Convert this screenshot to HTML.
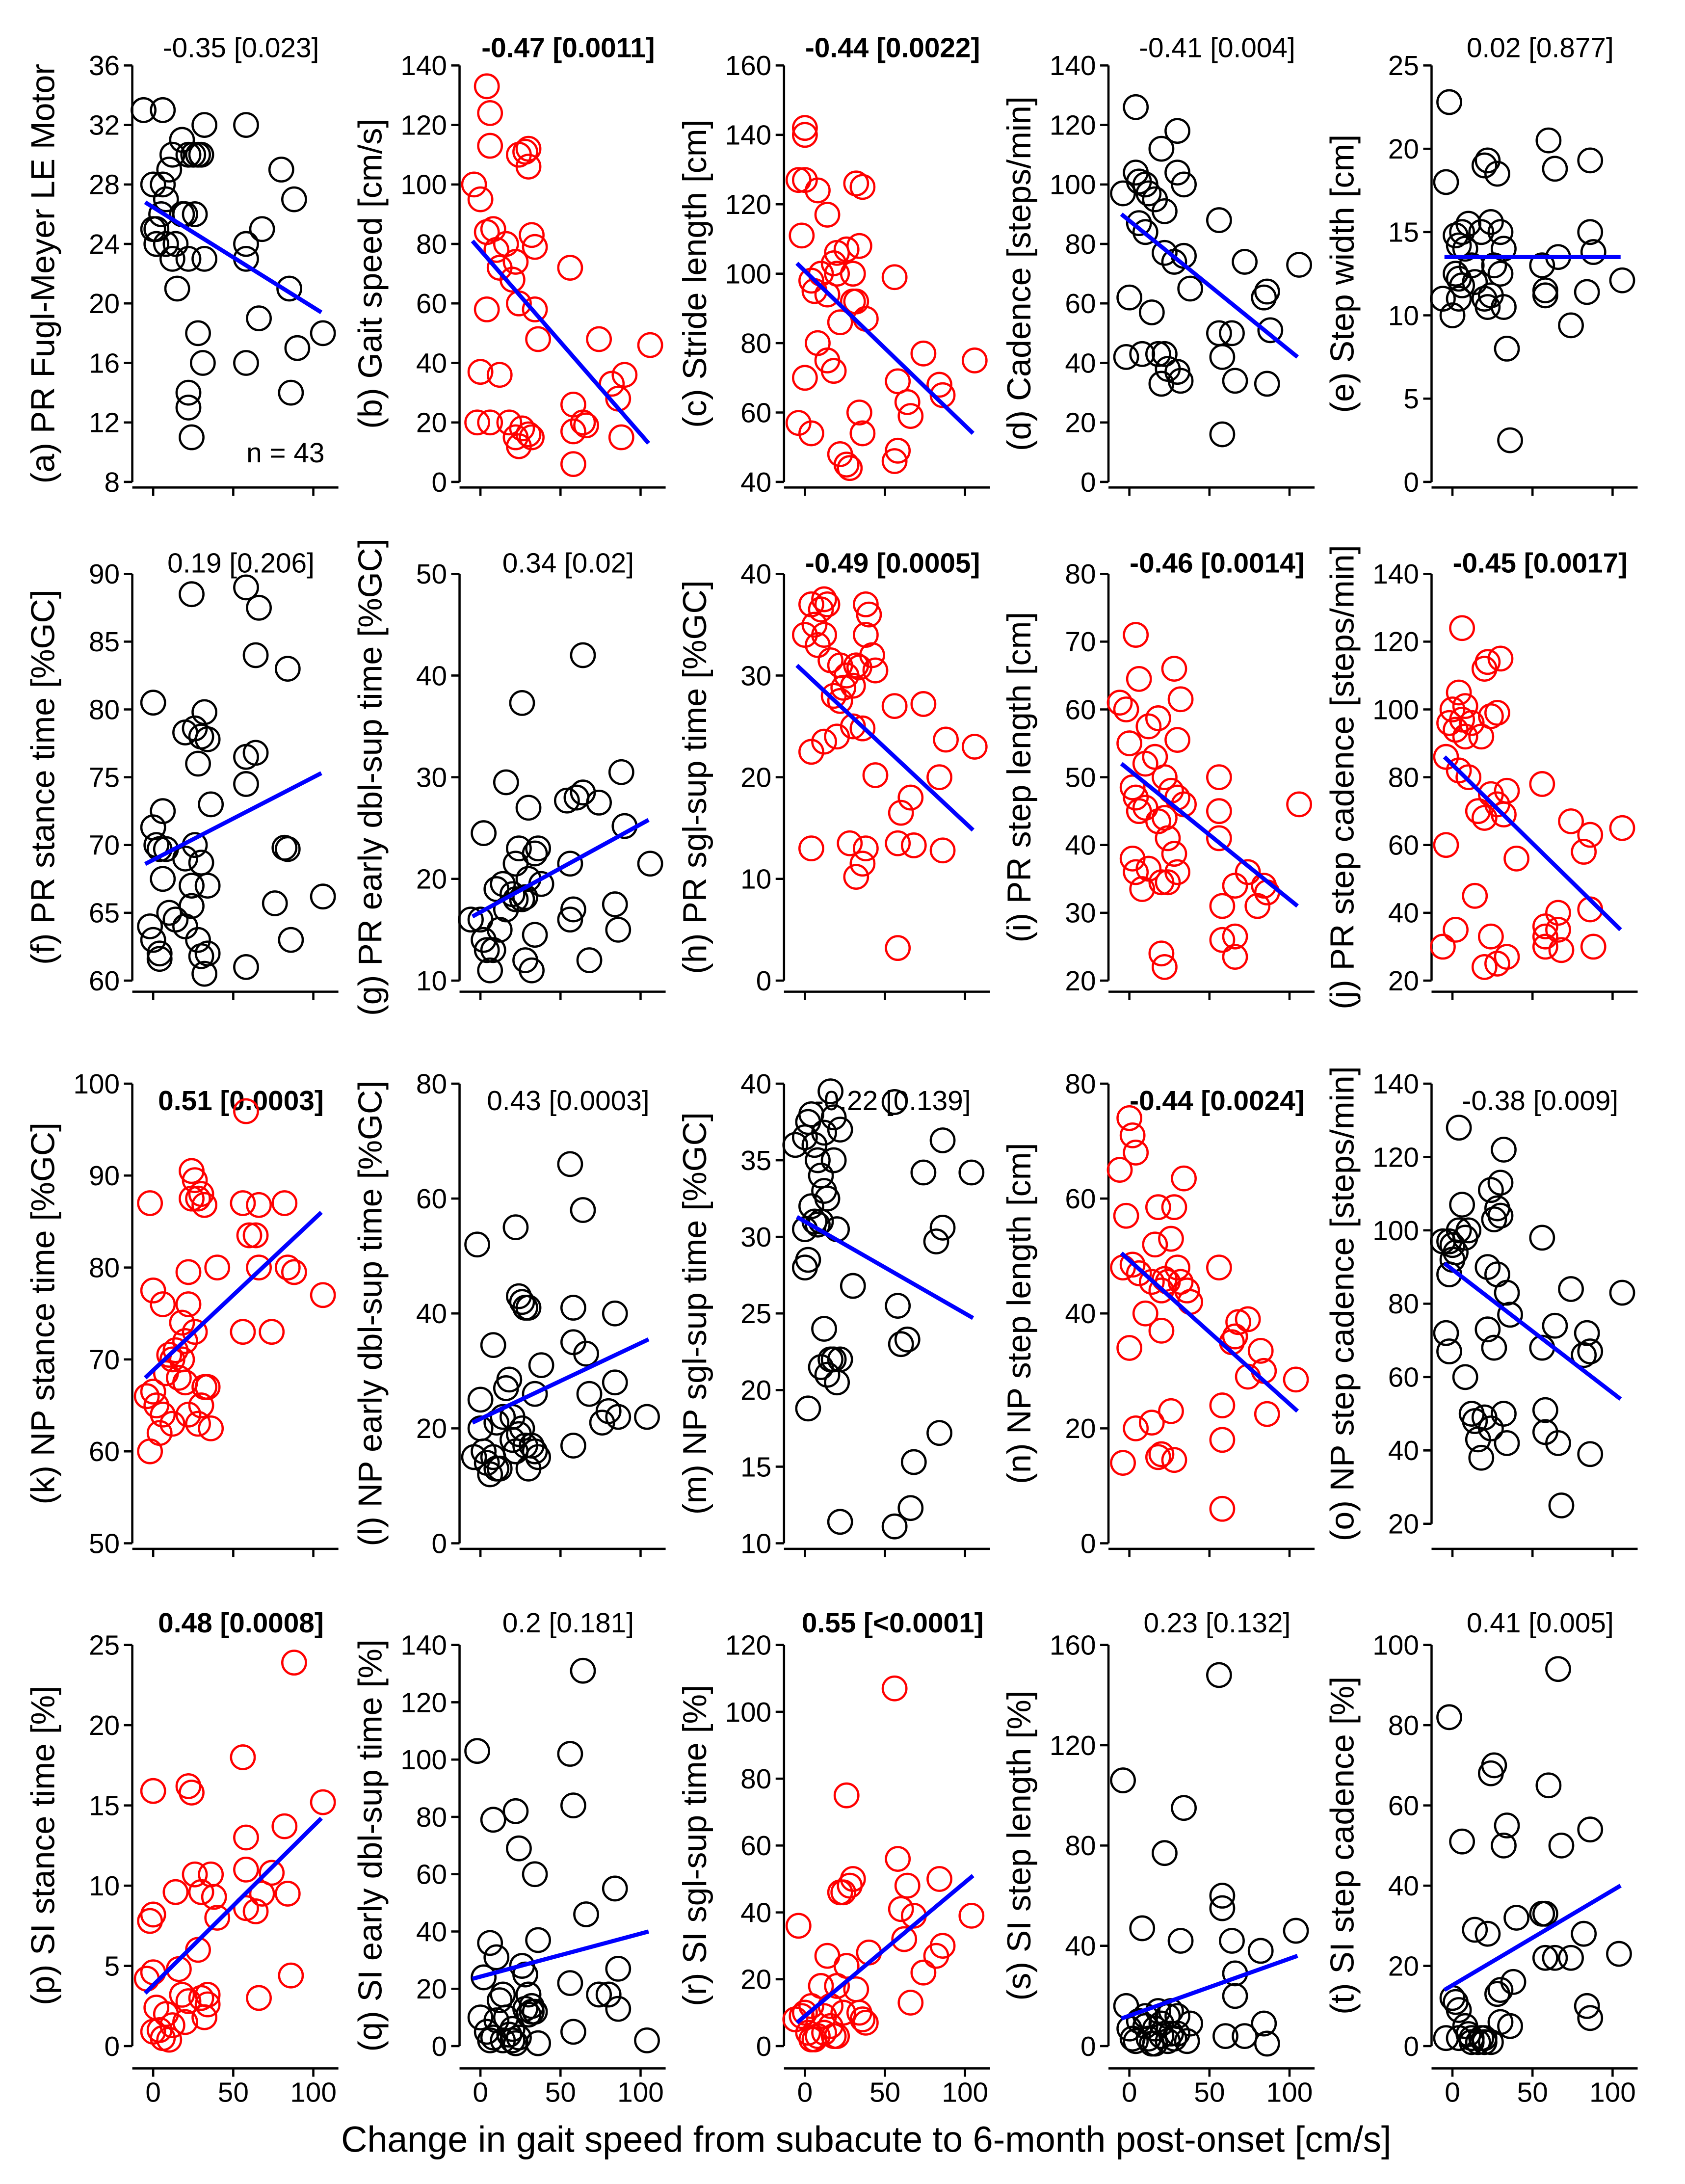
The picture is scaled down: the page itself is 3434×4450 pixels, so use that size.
<!DOCTYPE html>
<html><head><meta charset="utf-8"><style>
html,body{margin:0;padding:0;background:#fff}
svg{display:block}
text{font-family:"Liberation Sans",Arial,sans-serif;fill:#000}
</style></head><body>
<svg id="chart" xmlns="http://www.w3.org/2000/svg" width="3434" height="4450" viewBox="0 0 1210 1568" preserveAspectRatio="none">
<text x="622" y="1545" font-size="26" text-anchor="middle">Change in gait speed from subacute to 6-month post-onset [cm/s]</text>
</svg>
<script>
const panelIds=["a","b","c","d","e","f","g","h","i","j","k","l","m","n","o","p","q","r","s","t"];
const yLabels=["PR Fugl-Meyer LE Motor","Gait speed [cm/s]","Stride length [cm]","Cadence [steps/min]","Step width [cm]",
"PR stance time [%GC]","PR early dbl-sup time [%GC]","PR sgl-sup time [%GC]","PR step length [cm]","PR step cadence [steps/min]",
"NP stance time [%GC]","NP early dbl-sup time [%GC]","NP sgl-sup time [%GC]","NP step length [cm]","NP step cadence [steps/min]",
"SI stance time [%]","SI early dbl-sup time [%]","SI sgl-sup time [%]","SI step length [%]","SI step cadence [%]"];
const statLabels=["-0.35 [0.023]","-0.47 [0.0011]","-0.44 [0.0022]","-0.41 [0.004]","0.02 [0.877]",
"0.19 [0.206]","0.34 [0.02]","-0.49 [0.0005]","-0.46 [0.0014]","-0.45 [0.0017]",
"0.51 [0.0003]","0.43 [0.0003]","-0.22 [0.139]","-0.44 [0.0024]","-0.38 [0.009]",
"0.48 [0.0008]","0.2 [0.181]","0.55 [<0.0001]","0.23 [0.132]","0.41 [0.005]"];
const significant=[0,1,1,0,0, 0,0,1,1,1, 1,0,0,1,0, 1,0,1,0,0];
const yMin=[8,0,40,0,0, 60,10,0,20,20, 50,0,10,0,20, 0,0,0,0,0];
const yMax=[36,140,160,140,25, 90,50,40,80,140, 100,80,40,80,140, 25,140,120,160,100];
const yStep=[4,20,20,20,5, 5,10,10,10,20, 10,20,5,20,20, 5,20,20,40,20];
const xTicks=[0,50,100];
const trendStart=[26.8,81,103,90,13.5, 68.6,16.3,31,52,86, 68,21,31.3,50.5,91, 3.3,23.5,7,11,14];
const trendEnd=[19.4,13,54,42,13.5, 75.3,25.8,14.8,31,35, 86,35.5,24.7,23,54, 14.2,40,51,36,40];
const points=[
[[-6,33],[6,33],[0,28],[6,28],[8,27],[10,29],[12,30],[18,31],[22,30],[28,30],[32,32],[30,30],[25,30],[0,25],[2,24],[8,24],[12,23],[14,24],[18,26],[20,26],[22,23],[26,26],[32,23],[15,21],[28,18],[31,16],[22,14],[22,13],[24,11],[58,32],[58,24],[58,23],[58,16],[66,19],[68,25],[80,29],[85,21],[88,27],[86,14],[90,17],[106,18],[2,25],[5,26]],
[[4,133],[6,124],[6,113],[-4,100],[0,95],[4,84],[8,85],[10,78],[12,72],[16,80],[20,68],[22,74],[24,60],[24,110],[28,111],[30,106],[30,112],[32,83],[34,79],[34,58],[36,48],[4,58],[0,37],[-2,20],[6,20],[12,36],[18,20],[22,15],[24,12],[26,18],[30,16],[32,15],[56,72],[58,26],[58,17],[58,6],[64,20],[66,19],[74,48],[82,33],[86,28],[88,15],[90,36],[106,46]],
[[-4,127],[0,127],[-2,111],[0,142],[0,140],[8,124],[14,117],[18,103],[20,100],[4,98],[6,95],[10,100],[14,94],[22,86],[20,106],[26,107],[30,100],[32,126],[36,125],[30,92],[32,92],[38,87],[34,108],[14,75],[18,72],[8,80],[0,70],[-4,57],[4,54],[22,48],[26,45],[28,44],[34,60],[36,54],[56,99],[58,69],[56,46],[58,49],[64,63],[66,59],[74,77],[84,68],[86,65],[106,75]],
[[-4,97],[4,126],[4,104],[6,101],[10,100],[12,97],[16,95],[20,112],[22,91],[22,77],[30,104],[30,118],[34,100],[28,74],[34,76],[38,65],[6,87],[10,84],[0,62],[-2,42],[8,43],[14,57],[18,43],[20,33],[24,38],[30,37],[22,43],[32,34],[56,88],[56,50],[58,42],[58,16],[64,50],[66,34],[72,74],[84,62],[86,64],[88,51],[86,33],[106,73]],
[[-2,22.8],[-4,18],[2,14.8],[4,14.2],[6,15],[8,14],[2,12.5],[4,12.2],[6,11.8],[-6,11],[0,10],[4,11],[10,15.5],[12,13],[14,12],[18,15],[20,19],[22,19.3],[20,11],[22,10.5],[24,15.6],[26,13],[28,18.5],[30,15],[24,11.2],[32,14],[32,10.5],[34,8],[30,12.5],[36,2.5],[56,13],[58,11.5],[58,11.2],[60,20.5],[64,18.8],[66,13.5],[74,9.4],[84,11.4],[86,19.3],[86,15],[88,13.8],[106,12.1]],
[[24,88.5],[58,89],[66,87.5],[64,84],[84,83],[0,80.5],[20,78.3],[26,78.6],[30,78],[32,79.8],[34,77.8],[28,76],[58,76.5],[64,76.8],[58,74.5],[36,73],[6,72.5],[0,71.3],[2,70],[4,69.7],[8,69.7],[20,69],[26,70],[30,68.7],[24,67],[34,67],[24,65.5],[6,67.5],[10,65],[14,64.5],[-2,64],[0,63],[4,62],[4,61.6],[20,64],[28,63],[30,61.8],[34,62],[32,60.5],[58,61],[76,65.7],[82,69.8],[84,69.7],[86,63],[106,66.2]],
[[64,42],[26,37.3],[64,28.5],[60,28],[54,27.7],[74,27.5],[88,30.5],[90,25.2],[106,21.5],[84,17.5],[56,21.5],[58,17],[56,16],[68,12],[86,15],[-6,16],[0,16],[2,14],[4,13],[6,11],[8,13],[10,19],[14,19.5],[16,29.5],[16,17],[20,18.5],[22,18],[24,23],[26,18],[28,18.2],[30,20],[28,12],[32,11],[34,14.5],[30,27],[34,22.5],[36,23],[38,19.5],[2,24.5],[12,15],[22,21.5]],
[[0,34],[4,37],[6,35],[10,36.5],[12,37.5],[14,37],[8,33],[12,34],[16,31.5],[22,31],[26,30],[30,29],[32,31],[34,30.8],[38,34],[38,37],[40,36],[42,32],[44,30.5],[24,28.8],[18,28],[22,27.5],[30,25],[36,24.8],[4,22.5],[12,23.5],[20,24],[4,13],[28,13.5],[32,10.2],[36,11.5],[38,13],[44,20.2],[56,27],[58,13.5],[60,16.5],[58,3.2],[66,18],[68,13.3],[74,27.2],[84,20],[88,23.7],[86,12.8],[106,23]],
[[-6,61],[4,71],[6,64.5],[10,52],[12,57.5],[0,55],[-2,60],[2,48.5],[6,45],[4,47],[16,53],[18,58.7],[22,50],[26,48],[30,47],[28,66],[30,55.5],[32,61.5],[34,46],[22,44],[24,41],[18,43.5],[10,45.5],[2,38],[4,36],[12,36.5],[20,34.5],[24,34.5],[28,38.7],[30,36],[20,24],[22,22],[8,33.5],[56,50],[56,45],[56,41],[58,31],[58,26],[66,26.5],[66,23.5],[66,34],[74,36],[80,31],[84,34],[86,33],[106,46]],
[[6,124],[0,100],[4,105],[8,101],[6,97],[8,92],[12,96],[18,92],[22,114],[20,112],[24,98],[28,99],[30,115],[-2,96],[2,94],[-4,86],[16,70],[20,68],[24,75],[28,72],[32,69],[34,76],[40,56],[4,82],[10,80],[-4,60],[-6,30],[2,35],[14,45],[20,24],[24,33],[28,25],[34,27],[56,78],[58,36],[58,33],[58,30],[66,35],[68,29],[66,40],[74,67],[82,58],[86,63],[88,30],[106,65],[86,41]],
[[-2,87],[0,77.5],[0,66.5],[-4,66],[-2,60],[2,65],[4,62],[6,64],[6,76],[8,68.5],[10,70.5],[12,70],[14,71],[16,68],[18,70],[20,72],[22,76],[20,67.5],[22,64],[24,90.5],[26,89.5],[28,87.5],[24,87.5],[30,88],[32,86.8],[22,79.5],[18,74],[26,73],[30,65],[28,63],[32,67],[34,67],[36,62.5],[40,80],[56,87],[58,97],[60,83.5],[64,83.5],[66,86.8],[66,80],[74,73],[56,73],[82,87],[84,80],[88,79.5],[106,77],[12,63]],
[[-2,52],[8,34.5],[0,25],[0,20],[-4,15],[2,16],[4,14],[6,12],[8,15],[10,21],[12,13],[14,22],[16,27],[18,28.5],[20,22],[22,55],[24,43],[26,42],[28,41],[30,41],[22,16],[24,19],[26,20],[28,17],[30,13],[32,17],[34,16],[36,15],[20,18],[34,26],[38,31],[56,66],[58,41],[58,35],[58,17],[64,58],[66,33],[68,26],[76,21],[80,23],[84,28],[84,40],[86,22],[104,22],[10,13]],
[[-6,36],[0,36.5],[2,37.5],[4,38],[6,36],[8,35],[10,34],[12,36.8],[4,32],[0,30.5],[0,28],[2,28.5],[6,31],[8,30.8],[10,31],[12,33],[14,32.5],[16,39.5],[18,37.8],[20,30.5],[18,22],[14,21],[16,22],[12,24],[10,21.5],[20,20.5],[22,22],[22,37],[18,35],[2,18.8],[30,26.8],[22,11.4],[56,38.8],[58,25.5],[56,11.1],[60,23],[64,23.3],[66,12.3],[68,15.3],[74,34.2],[82,29.7],[86,36.3],[84,17.2],[86,30.6],[104,34.2]],
[[-6,65],[0,74],[2,71],[4,68],[-2,57],[-4,48],[2,48.5],[6,47],[10,40],[14,45.5],[16,52],[18,58.5],[20,44],[22,46],[24,45.5],[26,53],[28,58.5],[30,48],[32,45.5],[34,63.5],[36,44],[38,42],[20,37],[0,34],[-4,14],[4,20],[14,21],[18,15],[20,15.5],[26,23],[28,14.5],[56,48],[58,24],[58,18],[58,6],[64,35],[66,36],[68,38.5],[74,39],[74,29],[82,33.5],[84,30],[86,22.5],[104,28.5]],
[[4,128],[-6,97],[-2,97],[0,96],[0,92],[2,94],[4,100],[6,107],[8,98],[10,100],[-2,88],[-4,72],[-2,67],[8,60],[12,50],[14,48],[16,43],[18,38],[20,49],[24,46],[26,68],[22,73],[22,90],[24,111],[26,103],[28,106],[28,88],[30,104],[30,113],[32,122],[34,83],[36,77],[32,50],[34,42],[56,98],[56,68],[58,51],[58,45],[64,74],[66,42],[68,25],[74,84],[82,66],[84,72],[86,67],[86,39],[106,83]],
[[-4,4.2],[-2,7.8],[0,8.2],[0,15.9],[0,4.6],[2,2.4],[4,1],[6,0.5],[8,2],[10,0.4],[12,1.3],[14,9.6],[16,4.8],[18,3.2],[20,1.5],[22,16.2],[24,15.8],[26,10.7],[28,6],[30,3],[30,9.6],[32,1.8],[34,3.2],[34,2.6],[36,10.7],[38,9.3],[40,8],[22,2.8],[0,0.9],[56,18],[58,13],[58,11],[58,8.6],[64,8.4],[66,3],[68,9.5],[74,10.8],[82,13.7],[84,9.5],[86,4.4],[88,23.9],[106,15.2]],
[[-2,103],[2,24],[6,36],[8,79],[10,31],[12,16],[14,18],[16,10],[4,5],[6,2],[8,3],[10,9],[14,2],[18,4],[20,6],[22,82],[24,69],[26,28],[28,25],[30,18],[32,12],[34,60],[36,37],[20,2],[22,1],[24,3],[28,13],[30,11],[32,14],[34,12],[36,1],[56,102],[58,84],[56,22],[58,5],[64,131],[66,46],[74,18],[80,18],[84,55],[86,27],[86,13],[104,2],[0,10]],
[[-6,8],[-4,36],[-2,9],[0,10],[2,4],[4,2],[6,2],[8,3],[10,18],[12,4],[14,27],[16,6],[18,3],[20,3],[22,46],[24,46],[26,75],[28,48],[30,50],[32,17],[34,10],[36,8],[38,7],[40,28],[12,9],[20,18],[24,10],[26,24],[56,107],[58,56],[60,41],[62,32],[64,48],[66,13],[68,39],[74,22],[82,27],[84,50],[86,30],[104,39],[4,12],[16,12]],
[[-4,106],[-2,16],[0,7],[2,3],[4,2],[6,10],[8,47],[10,12],[12,3],[14,1],[16,1],[18,14],[20,9],[22,77],[24,12],[26,14],[28,3],[30,5],[32,42],[34,95],[36,2],[38,9],[24,2],[30,12],[20,4],[16,7],[56,148],[58,60],[58,55],[60,4],[64,42],[66,29],[66,20],[72,4],[82,38],[84,9],[86,1],[104,46],[10,8],[26,5]],
[[-2,82],[-4,2],[0,12],[2,11],[4,9],[6,51],[8,5],[10,3],[12,2],[14,29],[16,1],[18,2],[20,2],[22,28],[24,68],[26,70],[28,13],[30,14],[32,50],[34,55],[36,5],[38,16],[40,32],[20,1],[24,1],[30,6],[4,2],[56,33],[58,33],[58,22],[60,65],[64,22],[68,50],[66,94],[74,22],[82,28],[84,10],[86,54],[86,7],[104,23],[12,1]]
];
const NS="http://www.w3.org/2000/svg";
const svg=document.getElementById("chart");
const colLeft=[95,330,563,796,1028];
const rowTop=[47,412,778,1181],rowBot=[346,704,1108,1469],rowAxis=[350,712,1112,1485],rowTitle=[41,411,797,1172];
function mk(tag,attrs,parent){const e=document.createElementNS(NS,tag);for(const k in attrs)e.setAttribute(k,attrs[k]);(parent||svg).appendChild(e);return e;}
panelIds.forEach((id,p)=>{
  const col=p%5,row=Math.floor(p/5);
  const sp=colLeft[col];
  const top=rowTop[row];
  const bot=(id==="o")?1094:rowBot[row];
  const ax=rowAxis[row];
  const X=v=>sp+15+v*1.15;
  const Y=v=>bot-(v-yMin[p])/(yMax[p]-yMin[p])*(bot-top);
  const g=mk("g",{});
  
  
  const yl=mk("line",{x1:sp,x2:sp,y1:top,y2:bot,stroke:"#000","stroke-width":1.6},g);
  
  
  for(let v=yMin[p];v<=yMax[p]+1e-9;v+=yStep[p]){
    mk("line",{x1:sp-6,x2:sp,y1:Y(v),y2:Y(v),stroke:"#000","stroke-width":1.6},g);
    const t=mk("text",{x:sp-9,y:Y(v)+7,"font-size":20,"text-anchor":"end"},g);
    t.textContent=v;
    
    
  }
  const xl=mk("line",{x1:sp,x2:sp+148,y1:ax,y2:ax,stroke:"#000","stroke-width":1.6},g);
  
  
  xTicks.forEach(v=>{
    mk("line",{x1:X(v),x2:X(v),y1:ax,y2:ax+6,stroke:"#000","stroke-width":1.6},g);
    if(row===3){const t=mk("text",{x:X(v),y:ax+24,"font-size":20,"text-anchor":"middle"},g);t.textContent=v;
      
      }
  });
  const yt=mk("text",{transform:`translate(${sp-56},${(top+bot)/2}) rotate(-90)`,"font-size":24,"text-anchor":"middle"},g);
  yt.textContent="("+id+") "+yLabels[p];
  
  
  const st=mk("text",{x:sp+78,y:rowTitle[row],"font-size":20,"text-anchor":"middle","font-weight":significant[p]?"bold":"normal"},g);
  st.textContent=statLabels[p];
  
  
  const color=significant[p]?"#ff0000":"#000";
  points[p].forEach(pt=>{
    const c=mk("circle",{cx:X(pt[0]),cy:Y(pt[1]),r:8.5,fill:"none",stroke:color,"stroke-width":1.6},g);
    
    
  });
  const tl=mk("line",{x1:X(-5),y1:Y(trendStart[p]),x2:X(105),y2:Y(trendEnd[p]),stroke:"#0000ff","stroke-width":3},g);
  
  
  if(id==="a"){const n=mk("text",{x:205,y:332,"font-size":20,"text-anchor":"middle"},g);n.textContent="n = 43";
    
    }
});
</script>
</body></html>
